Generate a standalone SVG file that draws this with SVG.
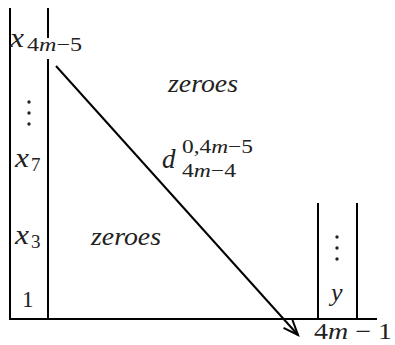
<svg xmlns="http://www.w3.org/2000/svg" width="395" height="345" viewBox="0 0 395 345">
<style>
.ln{stroke:#000;stroke-width:2;fill:none}
.dot{fill:#222}
</style>
<defs>
<marker id="ah" markerUnits="userSpaceOnUse" markerWidth="24" markerHeight="24" refX="20" refY="10" orient="auto" viewBox="0 0 24 20">
<path d="M5,4 L20,10 L5,16" fill="none" stroke="#000" stroke-width="2"/>
</marker>
</defs>
<g id="axes">
<line class="ln" x1="10" y1="8" x2="10" y2="320"/>
<line class="ln" x1="48" y1="8" x2="48" y2="38"/>
<line class="ln" x1="48" y1="59" x2="48" y2="320"/>
<line class="ln" x1="9" y1="319" x2="377" y2="319"/>
<line class="ln" x1="318" y1="203" x2="318" y2="319"/>
<line class="ln" x1="357" y1="203" x2="357" y2="319"/>
</g>
<g font-family="'Liberation Serif', serif" fill="#222">
<g id="left-column">
<text font-style="italic" font-size="27" x="10" y="47" textLength="14" lengthAdjust="spacingAndGlyphs">x</text><text font-size="19" x="27" y="51" textLength="55" lengthAdjust="spacingAndGlyphs">4<tspan font-style="italic">m</tspan>−5</text>
<circle class="dot" cx="29" cy="102" r="1.7"/><circle class="dot" cx="29" cy="113" r="1.7"/><circle class="dot" cx="29" cy="124" r="1.7"/>
<text font-style="italic" font-size="27" x="15" y="167" textLength="14" lengthAdjust="spacingAndGlyphs">x</text><text font-size="19" x="31" y="171">7</text>
<text font-style="italic" font-size="27" x="15" y="244" textLength="14" lengthAdjust="spacingAndGlyphs">x</text><text font-size="19" x="31" y="248">3</text>
<text font-size="23" x="22" y="307">1</text>
</g>
<g id="right-column">
<circle class="dot" cx="337" cy="237" r="1.7"/><circle class="dot" cx="337" cy="248" r="1.7"/><circle class="dot" cx="337" cy="259" r="1.7"/>
<text font-style="italic" font-size="26" x="331" y="301">y</text>
<text font-size="23" x="314" y="339" textLength="78" lengthAdjust="spacingAndGlyphs">4<tspan font-style="italic">m</tspan> − 1</text>
</g>
<g id="labels">
<text font-style="italic" font-size="25" x="168" y="92" textLength="70" lengthAdjust="spacingAndGlyphs">zeroes</text>
<text font-style="italic" font-size="25" x="91" y="245" textLength="70" lengthAdjust="spacingAndGlyphs">zeroes</text>
<text font-style="italic" font-size="27" x="162" y="168">d</text>
<text font-size="19" x="182" y="153" textLength="71" lengthAdjust="spacingAndGlyphs">0,4<tspan font-style="italic">m</tspan>−5</text>
<text font-size="19" x="182" y="177" textLength="54" lengthAdjust="spacingAndGlyphs">4<tspan font-style="italic">m</tspan>−4</text>
</g>
</g>
<g id="connectors">
<line class="ln" x1="56" y1="66" x2="298" y2="335" marker-end="url(#ah)"/>
</g>
</svg>
